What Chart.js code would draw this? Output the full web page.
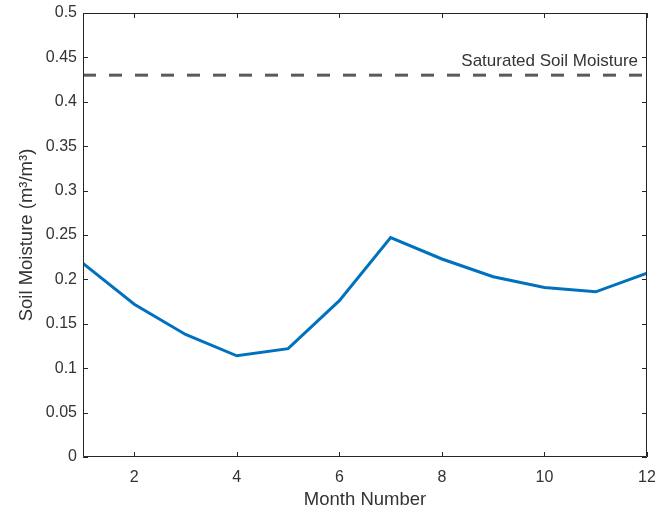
<!DOCTYPE html>
<html>
<head>
<meta charset="utf-8">
<script src="https://cdn.jsdelivr.net/npm/chart.js@4"></script>
<style>
  html, body { margin: 0; padding: 0; background: #fff; }
  #wrap { width: 659px; height: 511px; }
</style>
</head>
<body>
<div id="wrap"><canvas id="soilChart" width="659" height="511"></canvas></div>
<script>
const months = [1, 2, 3, 4, 5, 6, 7, 8, 9, 10, 11, 12];
const soilMoisture = [0.218, 0.172, 0.138, 0.114, 0.122, 0.176, 0.247, 0.223, 0.203, 0.191, 0.186, 0.207];
const saturatedValue = 0.43;
const saturatedLabel = 'Saturated Soil Moisture';
const xTicks = [2, 4, 6, 8, 10, 12];
const yTicks = [0, 0.05, 0.1, 0.15, 0.2, 0.25, 0.3, 0.35, 0.4, 0.45, 0.5];

const axisColor = '#262626';
const textColor = '#333333';
const fontFamily = 'Arial, "Liberation Sans", Helvetica, sans-serif';

// MATLAB style box with inward ticks, plus the saturation label
const boxPlugin = {
  id: 'boxTicks',
  afterDatasetsDraw(chart) {
    const { ctx, chartArea: a, scales: { x, y } } = chart;
    const len = 5;
    ctx.save();
    ctx.strokeStyle = axisColor;
    ctx.lineWidth = 1;
    ctx.beginPath();
    ctx.rect(a.left + 0.5, a.top + 0.5, a.right - a.left - 1, a.bottom - a.top - 1);
    xTicks.forEach(v => {
      const px = Math.round(x.getPixelForValue(v)) + 0.5;
      ctx.moveTo(px, a.bottom); ctx.lineTo(px, a.bottom - len);
      ctx.moveTo(px, a.top); ctx.lineTo(px, a.top + len);
    });
    yTicks.forEach(v => {
      const py = Math.round(y.getPixelForValue(v)) + 0.5;
      ctx.moveTo(a.left, py); ctx.lineTo(a.left + len, py);
      ctx.moveTo(a.right, py); ctx.lineTo(a.right - len, py);
    });
    ctx.stroke();

    ctx.fillStyle = textColor;
    ctx.font = '17px ' + fontFamily;
    ctx.textAlign = 'right';
    ctx.textBaseline = 'middle';
    ctx.fillText(saturatedLabel, x.getPixelForValue(12) - 9, y.getPixelForValue(saturatedValue) - 14);
    ctx.restore();
  }
};

new Chart(document.getElementById('soilChart'), {
  type: 'line',
  data: {
    datasets: [
      {
        data: months.map((m, i) => ({ x: m, y: soilMoisture[i] })),
        borderColor: '#0072BD',
        borderWidth: 3,
        pointRadius: 0,
        tension: 0,
      },
      {
        data: [{ x: months[0], y: saturatedValue }, { x: months[months.length - 1], y: saturatedValue }],
        borderColor: '#5a5a5a',
        borderWidth: 3,
        borderDash: [13, 13],
        pointRadius: 0,
      },
    ],
  },
  options: {
    responsive: false,
    animation: false,
    layout: { padding: { top: 13, right: 12, left: 0, bottom: 0 } },
    plugins: {
      legend: { display: false },
      tooltip: { enabled: false },
    },
    scales: {
      x: {
        type: 'linear',
        min: 1,
        max: 12,
        afterBuildTicks: s => { s.ticks = xTicks.map(v => ({ value: v })); },
        afterFit: s => { s.height = 54; s.paddingLeft = 0; s.paddingRight = 0; },
        grid: { display: false, drawTicks: false },
        border: { display: false },
        ticks: { color: textColor, padding: 11, maxRotation: 0, font: { size: 16, family: fontFamily } },
        title: {
          display: true,
          text: 'Month Number',
          color: textColor,
          padding: { top: 0, bottom: 0 },
          font: { size: 18.5, family: fontFamily },
        },
      },
      y: {
        min: 0,
        max: 0.5,
        afterBuildTicks: s => { s.ticks = yTicks.map(v => ({ value: v })); },
        afterFit: s => { s.width = 83; s.paddingTop = 0; s.paddingBottom = 0; },
        grid: { display: false, drawTicks: false },
        border: { display: false },
        ticks: {
          color: textColor,
          padding: 6,
          font: { size: 16, family: fontFamily },
          callback: v => String(parseFloat(v.toFixed(2))),
        },
        title: {
          display: true,
          text: 'Soil Moisture (m³/m³)',
          color: textColor,
          padding: { top: 16, bottom: 0 },
          font: { size: 18.5, family: fontFamily },
        },
      },
    },
  },
  plugins: [boxPlugin],
});
</script>
</body>
</html>
